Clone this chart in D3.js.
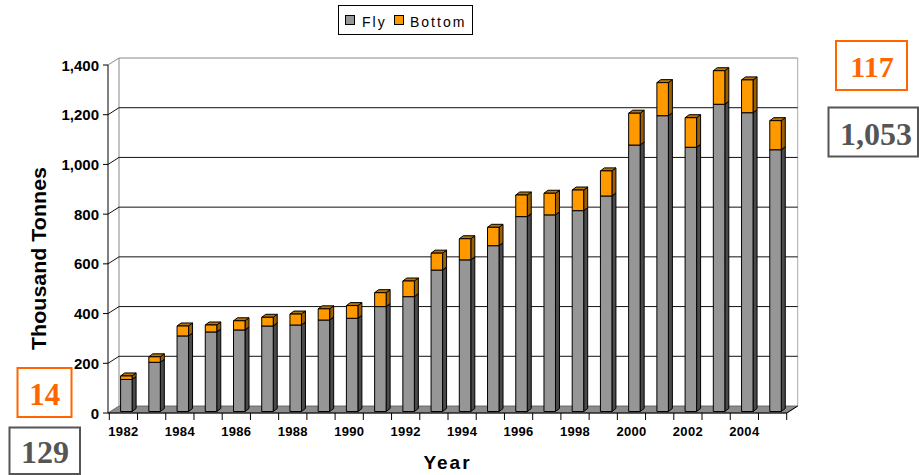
<!DOCTYPE html>
<html><head><meta charset="utf-8">
<script src="https://cdn.jsdelivr.net/npm/d3@7/dist/d3.min.js"></script>
<style>body{margin:0;background:#fff}svg{display:block}</style>
</head><body>
<svg id="c" width="919" height="475"></svg>
<script>
const years = d3.range(1982, 2006);
const fly = [129,198,304,320,328,344,348,368,375,422,462,569,610,667,784,791,808,867,1072,1190,1063,1236,1202,1053];
const bottom = [14,22,40,28,37,35,44,45,51,56,63,68,85,74,87,87,83,101,128,133,119,135,132,117];
const yTicks = [0,200,400,600,800,1000,1200,1400];
const xLabels = [1982,1984,1986,1988,1990,1992,1994,1996,1998,2000,2002,2004];
const seriesNames = ["Fly","Bottom"];

const svg = d3.select("#c");
const y = d3.scaleLinear().domain([0,1400]).range([413,65]);
const x = d3.scaleBand().domain(years).range([109.3,786.7]).padding(0);
const DX = 11, DY = 7;         // wall depth
const axL = 108, axR = 786.7;
const fmt = d3.format(",");

// floor
svg.append("path")
  .attr("d", `M${axL},${y(0)}L${axR},${y(0)}L${axR+DX},${y(0)-DY}L${axL+DX},${y(0)-DY}Z`)
  .attr("fill","#8c8c8c").attr("stroke","#555").attr("stroke-width",0.8);

// walls
svg.append("line").attr("x1",axL+DX).attr("x2",axL+DX).attr("y1",y(0)-DY).attr("y2",y(1400)-DY).attr("stroke","#888");
svg.append("line").attr("x1",axR+DX).attr("x2",axR+DX).attr("y1",y(0)-DY).attr("y2",y(1400)-DY).attr("stroke","#aaa");
svg.append("line").attr("x1",axL+DX).attr("x2",axR+DX).attr("y1",y(1400)-DY).attr("y2",y(1400)-DY).attr("stroke","#888");

// gridlines + diagonals
yTicks.forEach(t => {
  const c = (t===1400) ? "#888" : "#111";
  if (t>0 && t<1400) svg.append("line").attr("x1",axL+DX).attr("x2",axR+DX).attr("y1",y(t)-DY).attr("y2",y(t)-DY).attr("stroke",c).attr("stroke-width",1);
  if (t>0) svg.append("line").attr("x1",axL).attr("x2",axL+DX).attr("y1",y(t)).attr("y2",y(t)-DY).attr("stroke",c);
  svg.append("line").attr("x1",axL-5).attr("x2",axL).attr("y1",y(t)).attr("y2",y(t)).attr("stroke","#000");
  svg.append("text").attr("x",99).attr("y",y(t)+5.5).attr("text-anchor","end")
    .attr("font-family","Liberation Sans, Arial, sans-serif").attr("font-weight","bold").attr("font-size",15)
    .text(fmt(t));
});

// y axis line
svg.append("line").attr("x1",axL).attr("x2",axL).attr("y1",y(0)).attr("y2",y(1400)).attr("stroke","#000");

// bars
const BW = 11.5, BOX = 11.3, SX = 4, SY = 3, baseShift = -1.5;
const stacks = years.map((yr,i)=>({yr, segs:[{v0:0,v1:fly[i],k:0},{v0:fly[i],v1:fly[i]+bottom[i],k:1}]}));
const frontCol = ["#969696","#FF9900"], sideCol = ["#4a4a4a","#9c5f00"], topCol = ["#6e6e6e","#b87400"];
stacks.forEach(s => {
  const x0 = x(s.yr) + BOX, x1 = x0 + BW;
  s.segs.forEach(sg => {
    const yb = y(sg.v0)+baseShift, yt = y(sg.v1)+baseShift;
    const g = svg.append("g").attr("stroke","#000").attr("stroke-width",1).attr("stroke-linejoin","round");
    g.append("path").attr("d",`M${x1},${yb}L${x1+SX},${yb-SY}L${x1+SX},${yt-SY}L${x1},${yt}Z`).attr("fill",sideCol[sg.k]);
    g.append("path").attr("d",`M${x0},${yt}L${x0+SX},${yt-SY}L${x1+SX},${yt-SY}L${x1},${yt}Z`).attr("fill",topCol[sg.k]);
    g.append("rect").attr("x",x0).attr("y",yt).attr("width",BW).attr("height",yb-yt).attr("fill",frontCol[sg.k]);
  });
});

// x axis
svg.append("line").attr("x1",axL).attr("x2",axR).attr("y1",y(0)).attr("y2",y(0)).attr("stroke","#000");
svg.append("line").attr("x1",axR).attr("x2",axR+DX).attr("y1",y(0)).attr("y2",y(0)-DY).attr("stroke","#000");
years.concat([2006]).forEach((yr,i) => {
  const xx = x.range()[0] + i*x.step();
  svg.append("line").attr("x1",xx).attr("x2",xx).attr("y1",y(0)).attr("y2",y(0)+7).attr("stroke","#000");
});
xLabels.forEach(yr => {
  svg.append("text").attr("x",x(yr)+x.bandwidth()/2).attr("y",436).attr("text-anchor","middle")
    .attr("font-family","Liberation Sans, Arial, sans-serif").attr("font-weight","bold").attr("font-size",13)
    .attr("letter-spacing","0.3px").text(yr);
});

// axis titles
svg.append("text").attr("x",447.5).attr("y",468.5).attr("text-anchor","middle")
  .attr("font-family","Liberation Sans, Arial, sans-serif").attr("font-weight","bold").attr("font-size",19)
  .attr("letter-spacing","2px").text("Year");
svg.append("text").attr("transform","translate(46,258.5) rotate(-90)").attr("text-anchor","middle")
  .attr("font-family","Liberation Sans, Arial, sans-serif").attr("font-weight","bold").attr("font-size",20)
  .attr("textLength",183).attr("lengthAdjust","spacingAndGlyphs").text("Thousand Tonnes");

// legend
svg.append("rect").attr("x",338.5).attr("y",5.5).attr("width",134).attr("height",29).attr("fill","#fff").attr("stroke","#000");
const legX = [345, 394], legT = [362, 410];
seriesNames.forEach((n,k) => {
  svg.append("rect").attr("x",legX[k]+0.5).attr("y",15.5).attr("width",9).attr("height",9).attr("fill",frontCol[k]).attr("stroke","#000");
  svg.append("text").attr("x",legT[k]).attr("y",26.5).attr("font-family","Liberation Sans, Arial, sans-serif")
    .attr("font-size",14).attr("letter-spacing","2px").text(n);
});

// annotation boxes
const boxes = [
  {x:836,y:41,w:71,h:49,txt:fmt(bottom[23]),col:"#FF6600",cx:872,by:76.5,fs:30},
  {x:828.5,y:107.5,w:89.5,h:49,txt:fmt(fly[23]),col:"#555555",cx:876,by:145,fs:32},
  {x:17.5,y:368,w:54,h:49,txt:fmt(bottom[0]),col:"#FF6600",cx:44.7,by:405,fs:31},
  {x:9.5,y:427.5,w:70.5,h:46.5,txt:fmt(fly[0]),col:"#555555",cx:45,by:463.3,fs:32}
];
boxes.forEach(b => {
  svg.append("rect").attr("x",b.x).attr("y",b.y).attr("width",b.w).attr("height",b.h)
    .attr("fill","#fff").attr("stroke",b.col).attr("stroke-width",2);
  svg.append("text").attr("x",b.cx).attr("y",b.by).attr("text-anchor","middle")
    .attr("font-family","Liberation Serif, Times New Roman, serif").attr("font-weight","bold")
    .attr("font-size",b.fs).attr("fill",b.col).text(b.txt);
});
</script>
</body></html>
